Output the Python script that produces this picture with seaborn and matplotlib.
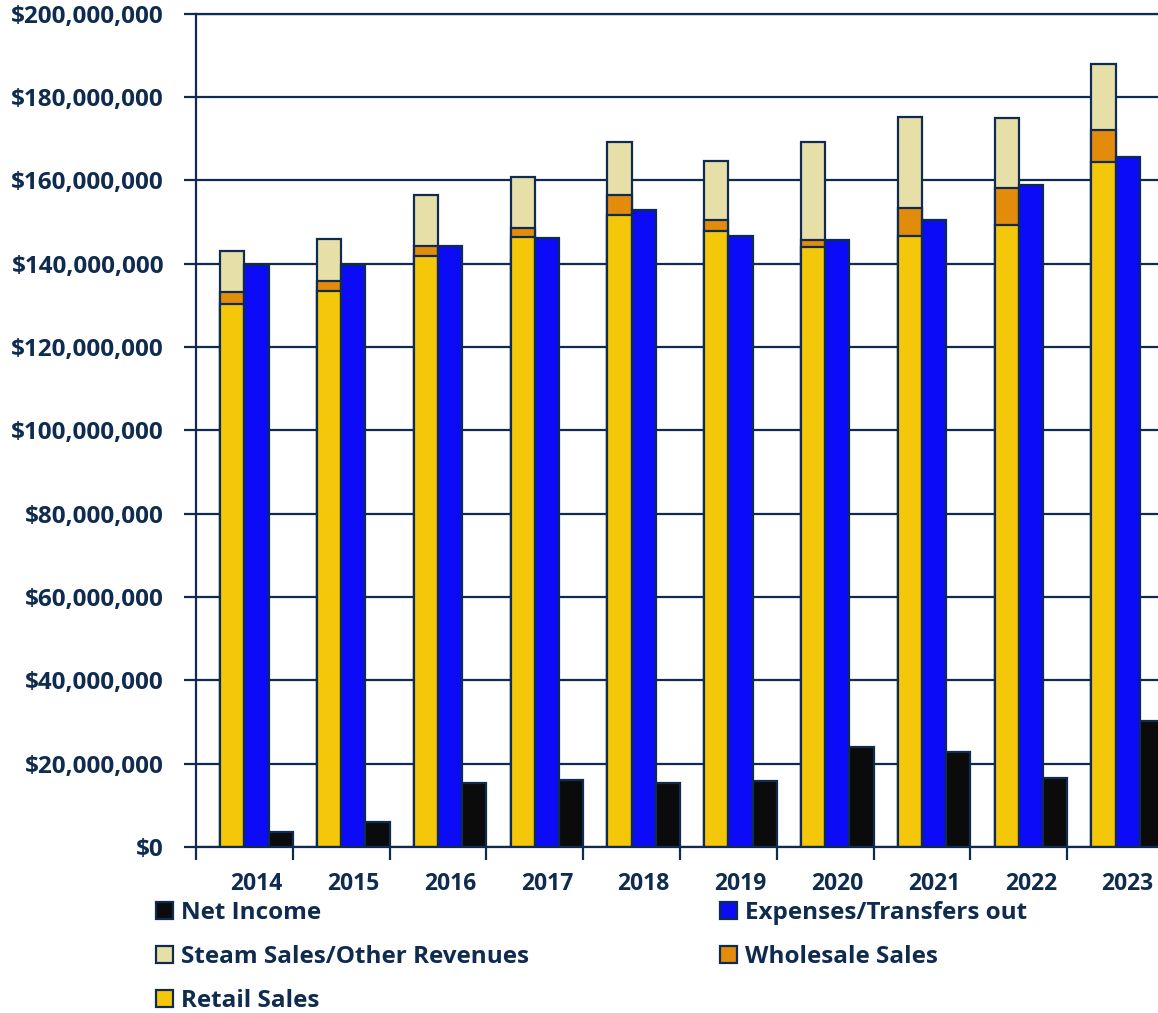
import numpy as np
import pandas as pd
import matplotlib
matplotlib.use("Agg")
import matplotlib.pyplot as plt
import seaborn as sns
from matplotlib.patches import Patch
from matplotlib.ticker import FuncFormatter, MultipleLocator, FixedLocator

# Annual figures in dollars
years = [2014, 2015, 2016, 2017, 2018, 2019, 2020, 2021, 2022, 2023]
retail_sales = [130_300_000, 133_400_000, 141_800_000, 146_500_000, 151_800_000,
                147_800_000, 144_100_000, 146_600_000, 149_400_000, 164_300_000]
wholesale_sales = [2_800_000, 2_400_000, 2_400_000, 2_000_000, 4_700_000,
                   2_700_000, 1_700_000, 6_700_000, 8_800_000, 7_800_000]
steam_other = [9_900_000, 10_100_000, 12_300_000, 12_300_000, 12_600_000,
               14_200_000, 23_300_000, 22_000_000, 16_800_000, 15_800_000]
expenses = [139_700_000, 139_700_000, 144_200_000, 146_200_000, 152_900_000,
            146_600_000, 145_700_000, 150_600_000, 159_000_000, 165_700_000]
net_income = [3_500_000, 6_100_000, 15_300_000, 16_000_000, 15_300_000,
              15_800_000, 23_900_000, 22_900_000, 16_500_000, 30_300_000]

labels = ["Net Income", "Expenses/Transfers out", "Steam Sales/Other Revenues",
          "Wholesale Sales", "Retail Sales"]

navy = "#0f2b4f"
c_retail = "#f5c70a"
c_wholesale = "#e38b0b"
c_steam = "#e7dfa8"
c_expenses = "#0b0bf7"
c_net = "#0b0b0b"

sns.set_theme(style="white")
plt.rcParams["font.family"] = ["Open Sans", "DejaVu Sans"]
plt.rcParams["font.weight"] = "bold"

idx = np.arange(len(years))
df = pd.DataFrame({
    "year": years,
    "rev_pos": idx + 0.375,
    "exp_pos": idx + 0.625,
    "net_pos": idx + 0.875,
    "retail": retail_sales,
    "wholesale": wholesale_sales,
    "steam": steam_other,
    "expenses": expenses,
    "net": net_income,
})
df["retail_wholesale"] = df["retail"] + df["wholesale"]
df["revenue_total"] = df["retail_wholesale"] + df["steam"]

fig = plt.figure(figsize=(11.58, 10.13), dpi=100)
ax = fig.add_axes([196 / 1158, 166 / 1013, 968 / 1158, 833.3 / 1013])

bar_kw = dict(native_scale=True, width=0.25, saturation=1, errorbar=None,
              edgecolor=navy, linewidth=1.6, orient="x", ax=ax)

# Stacked revenue column: draw cumulative totals from the top layer down
sns.barplot(data=df, x="rev_pos", y="revenue_total", color=c_steam, **bar_kw)
sns.barplot(data=df, x="rev_pos", y="retail_wholesale", color=c_wholesale, **bar_kw)
sns.barplot(data=df, x="rev_pos", y="retail", color=c_retail, **bar_kw)
sns.barplot(data=df, x="exp_pos", y="expenses", color=c_expenses, **bar_kw)
sns.barplot(data=df, x="net_pos", y="net", color=c_net, **bar_kw)

ax.set_xlim(0, 10)
ax.set_ylim(0, 200_000_000)
ax.set_xlabel("")
ax.set_ylabel("")

ax.yaxis.set_major_locator(MultipleLocator(20_000_000))
ax.yaxis.set_major_formatter(FuncFormatter(lambda v, p: f"${v:,.0f}"))
ax.yaxis.grid(True, color=navy, linewidth=1.6)
ax.xaxis.grid(False)
ax.set_axisbelow(True)

ax.xaxis.set_major_locator(FixedLocator(idx + 0.625))
ax.set_xticklabels([str(y) for y in years])
ax.xaxis.set_minor_locator(FixedLocator(np.arange(len(years) + 1)))

ax.tick_params(axis="y", which="major", left=True, length=9, width=1.6,
               color=navy, pad=14, labelsize=17.5, labelcolor=navy, direction="out")
ax.tick_params(axis="x", which="major", bottom=True, length=0, pad=18,
               labelsize=16.5, labelcolor=navy)
ax.tick_params(axis="x", which="minor", bottom=True, length=9, width=1.6,
               color=navy, direction="out")

for side in ("left", "bottom", "top"):
    ax.spines[side].set_visible(True)
    ax.spines[side].set_color(navy)
    ax.spines[side].set_linewidth(1.6)
ax.spines["right"].set_visible(False)

def handle(c):
    return Patch(facecolor=c, edgecolor=navy, linewidth=1.6)

leg_kw = dict(frameon=False, fontsize=17.5, handlelength=0.7, handleheight=0.7,
              handletextpad=0.32, labelspacing=0.82, borderpad=0, borderaxespad=0,
              loc="upper left", bbox_transform=fig.transFigure, labelcolor=navy)

left_leg = fig.legend([handle(c_net), handle(c_steam), handle(c_retail)],
                      [labels[0], labels[2], labels[4]],
                      bbox_to_anchor=(156 / 1158, 1 - 901 / 1013), **leg_kw)
right_leg = fig.legend([handle(c_expenses), handle(c_wholesale)],
                       [labels[1], labels[3]],
                       bbox_to_anchor=(720 / 1158, 1 - 901 / 1013), **leg_kw)

fig.savefig("out.png", dpi=100)
